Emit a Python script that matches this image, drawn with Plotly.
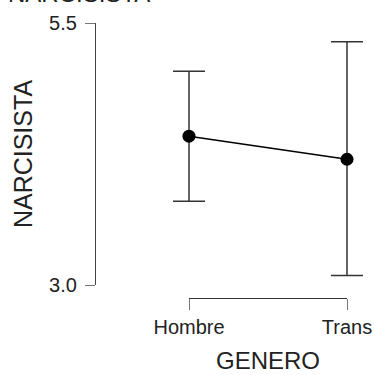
import plotly.graph_objects as go

categories = ["Hombre", "Trans"]
means = [4.42, 4.20]
upper = [5.04, 5.32]
lower = [3.80, 3.09]
y_ticks = [3.0, 5.5]
y_tick_labels = ["3.0", "5.5"]

err_plus = [u - m for u, m in zip(upper, means)]
err_minus = [m - l for m, l in zip(means, lower)]

W, H = 374, 375
ml, mr, mt, mb = 95, 0, 23, 77
pw = W - ml - mr
ph = H - mt - mb
x0_px, x1_px = 189, 347          # pixel positions of first/last category
unit = x1_px - x0_px
pad = 0.15
dom_vis = [(x0_px - ml) / pw, (x1_px - ml) / pw]
dom_data = [(x0_px - pad * unit - ml) / pw, (x1_px + pad * unit - ml) / pw]
y_bot = (298 - 285) / ph

fig = go.Figure()
# invisible trace so the visible category axis is drawn
fig.add_trace(go.Scatter(
    x=categories, y=means, mode="markers", marker=dict(opacity=0),
    hoverinfo="skip", showlegend=False, xaxis="x2", yaxis="y",
))
fig.add_trace(go.Scatter(
    x=categories, y=means, mode="lines+markers",
    line=dict(color="black", width=1.6),
    marker=dict(color="black", size=13),
    error_y=dict(type="data", symmetric=False, array=err_plus, arrayminus=err_minus,
                 color="#333333", thickness=1.5, width=16),
    cliponaxis=False, showlegend=False, xaxis="x", yaxis="y",
))

font = "Liberation Sans, Arial, sans-serif"
fig.update_layout(
    width=W, height=H,
    margin=dict(l=ml, r=mr, t=mt, b=mb),
    paper_bgcolor="white", plot_bgcolor="rgba(0,0,0,0)",
    font=dict(family=font, color="black"),
    xaxis=dict(
        type="category", range=[-pad, 1 + pad], domain=dom_data,
        anchor="y", visible=False, automargin=False,
        showgrid=False, zeroline=False,
    ),
    xaxis2=dict(
        type="category", range=[0, 1], domain=dom_vis,
        anchor="free", position=0, automargin=False,
        showline=True, linecolor="#333", linewidth=1.3,
        ticks="outside", ticklen=11, tickcolor="#777", tickwidth=1.3,
        tickfont=dict(size=20, color="#222"),
        showgrid=False, zeroline=False,
        title=dict(text="GENERO", font=dict(size=24, color="#222"), standoff=15),
    ),
    yaxis=dict(
        range=[3.0, 5.5], domain=[y_bot, 1],
        anchor="free", position=0, automargin=False,
        showline=True, linecolor="#444", linewidth=1.3,
        ticks="outside", ticklen=10, tickcolor="#777", tickwidth=1.3,
        tickvals=y_ticks, ticktext=y_tick_labels,
        tickfont=dict(size=20, color="#222"),
        ticklabelstandoff=4,
        showgrid=False, zeroline=False,
        title=dict(text="NARCISISTA", font=dict(size=25, color="#222"), standoff=8),
    ),
)

fig.add_annotation(
    text="NARCISISTA", xref="paper", yref="paper",
    x=(6 - ml) / pw, y=1 + (mt - 9) / ph,
    xanchor="left", yanchor="bottom", showarrow=False,
    font=dict(size=24, color="#222", family=font),
)

fig.write_html("out.html")
